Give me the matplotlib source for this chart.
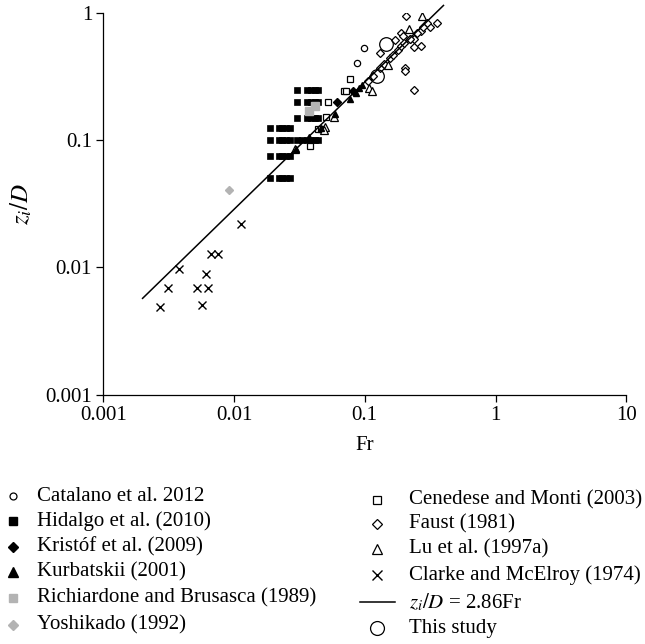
import matplotlib
matplotlib.use("Agg")
import matplotlib.pyplot as plt
import numpy as np

plt.rcParams['font.family'] = ['Liberation Serif', 'DejaVu Serif']
plt.rcParams['mathtext.fontset'] = 'stix'

# ---- data (Fr, z_i/D) ----
catalano_fr = [0.0991, 0.0872]
catalano_z = [0.528, 0.407]

hidalgo_fr = [0.019, 0.022, 0.0235, 0.025, 0.027,
              0.019, 0.022, 0.0235, 0.025, 0.027,
              0.019, 0.022, 0.0235, 0.025, 0.027, 0.0305, 0.033, 0.036, 0.039, 0.0415, 0.044,
              0.019, 0.022, 0.0235, 0.025, 0.027,
              0.0305, 0.036, 0.039, 0.0415, 0.044,
              0.0305, 0.036, 0.039, 0.0415, 0.044,
              0.0305, 0.036, 0.039, 0.0415, 0.044]
hidalgo_z = [0.05, 0.05, 0.05, 0.05, 0.05,
             0.075, 0.075, 0.075, 0.075, 0.075,
             0.1, 0.1, 0.1, 0.1, 0.1, 0.1, 0.1, 0.1, 0.1, 0.1, 0.1,
             0.125, 0.125, 0.125, 0.125, 0.125,
             0.15, 0.15, 0.15, 0.15, 0.15,
             0.2, 0.2, 0.2, 0.2, 0.2,
             0.25, 0.25, 0.25, 0.25, 0.25]

kristof_fr = [0.0616, 0.082]
kristof_z = [0.2, 0.245]

kurbatskii_fr = [0.030, 0.0375, 0.046, 0.059, 0.077, 0.085, 0.090, 0.095]
kurbatskii_z = [0.085, 0.106, 0.125, 0.160, 0.210, 0.235, 0.258, 0.270]

richiardone_fr = [0.0376, 0.0418]
richiardone_z = [0.170, 0.186]

yoshikado_fr = [0.0092]
yoshikado_z = [0.0407]

cenedese_fr = [0.0383, 0.0442, 0.0466, 0.0508, 0.0526, 0.0697, 0.0722, 0.0774]
cenedese_z = [0.090, 0.123, 0.123, 0.152, 0.200, 0.244, 0.244, 0.303]

faust_fr = [0.2077, 0.3566, 0.3155, 0.2988, 0.2704, 0.189, 0.196, 0.2228, 0.239, 0.239,
            0.2704, 0.1312, 0.204, 0.204, 0.239, 0.171,
            0.105, 0.115, 0.13, 0.14, 0.155, 0.165, 0.18, 0.19, 0.2, 0.22, 0.25, 0.28]
faust_z = [0.947, 0.839, 0.780, 0.830, 0.726, 0.693, 0.660, 0.622, 0.622, 0.538,
           0.551, 0.483, 0.372, 0.350, 0.248, 0.614,
           0.29, 0.32, 0.37, 0.40, 0.44, 0.47, 0.51, 0.55, 0.58, 0.62, 0.70, 0.78]

lu_fr = [0.2725, 0.219, 0.1513, 0.108, 0.114, 0.0583, 0.0497, 0.049, 0.0293]
lu_z = [0.947, 0.745, 0.390, 0.256, 0.245, 0.152, 0.127, 0.121, 0.0855]

clarke_fr = [0.00273, 0.00314, 0.0038, 0.00523, 0.00635, 0.00614, 0.00571, 0.0067, 0.00758, 0.01136]
clarke_z = [0.0049, 0.0069, 0.0098, 0.0069, 0.0069, 0.0089, 0.0051, 0.0128, 0.0128, 0.022]

study_fr = [0.146, 0.124]
study_z = [0.568, 0.320]

fit_coef = 2.86
fit_fr = [0.002, 0.40]

GRAY = '#b3b3b3'

fig = plt.figure(figsize=(6.45, 6.44), dpi=100)
ax = fig.add_axes([0.160, 0.387, 0.811, 0.593])

ax.plot(hidalgo_fr, hidalgo_z, 's', ms=4.6, color='black', mec='black', mew=0.5, ls='none')
ax.plot(richiardone_fr, richiardone_z, 's', ms=5.5, color=GRAY, mec=GRAY, ls='none')
ax.plot(yoshikado_fr, yoshikado_z, 'D', ms=4.0, color=GRAY, mec=GRAY, ls='none')
ax.plot(cenedese_fr, cenedese_z, 's', ms=5.0, mfc='white', mec='black', mew=0.9, ls='none')
ax.plot(faust_fr, faust_z, 'D', ms=4.2, mfc='white', mec='black', mew=0.9, ls='none')
ax.plot(lu_fr, lu_z, '^', ms=5.5, mfc='white', mec='black', mew=0.9, ls='none')
ax.plot(kristof_fr, kristof_z, 'D', ms=4.2, color='black', ls='none')
ax.plot(kurbatskii_fr, kurbatskii_z, '^', ms=5.0, color='black', ls='none')
ax.plot(catalano_fr, catalano_z, 'o', ms=4.5, mfc='white', mec='black', mew=0.9, ls='none')
ax.plot(clarke_fr, clarke_z, 'x', ms=5.5, color='black', mew=1.0, ls='none')
ax.plot(study_fr, study_z, 'o', ms=9.8, mfc='none', mec='black', mew=0.9, ls='none')

fit_x = np.array(fit_fr)
ax.plot(fit_x, fit_coef * fit_x, '-', color='black', lw=1.1, clip_on=False)

ax.set_xscale('log')
ax.set_yscale('log')
ax.set_xlim(0.001, 10)
ax.set_ylim(0.001, 1)
ax.set_xticks([0.001, 0.01, 0.1, 1, 10])
ax.set_xticklabels(['0.001', '0.01', '0.1', '1', '10'])
ax.set_yticks([0.001, 0.01, 0.1, 1])
ax.set_yticklabels(['0.001', '0.01', '0.1', '1'])
ax.minorticks_off()
ax.tick_params(axis='both', labelsize=15, length=5, width=0.9, direction='out', pad=3)
for side in ('top', 'right'):
    ax.spines[side].set_visible(False)
for side in ('left', 'bottom'):
    ax.spines[side].set_linewidth(0.9)
ax.set_xlabel('Fr', fontsize=15, labelpad=8)
ax.set_ylabel(r'$z_i/D$', fontsize=18, labelpad=8)

# ---- legend, drawn on a pixel-space overlay ----
leg = fig.add_axes([0, 0, 1, 1], facecolor='none')
leg.set_xlim(0, 645)
leg.set_ylim(644, 0)
leg.axis('off')

left_labels = ['Catalano et al. 2012', 'Hidalgo et al. (2010)', 'Kristóf et al. (2009)',
               'Kurbatskii (2001)', 'Richiardone and Brusasca (1989)', 'Yoshikado (1992)']
left_styles = [dict(marker='o', ms=5, mfc='white', mec='black', mew=0.9),
               dict(marker='s', ms=6, color='black'),
               dict(marker='D', ms=5, color='black'),
               dict(marker='^', ms=6.5, color='black'),
               dict(marker='s', ms=6, color=GRAY),
               dict(marker='D', ms=5, color=GRAY)]
left_rows = [496, 521, 547, 572, 598, 625]

right_labels = ['Cenedese and Monti (2003)', 'Faust (1981)', 'Lu et al. (1997a)',
                'Clarke and McElroy (1974)', r'$z_i/D$ = 2.86Fr', 'This study']
right_styles = [dict(marker='s', ms=6, mfc='white', mec='black', mew=0.9),
                dict(marker='D', ms=5, mfc='white', mec='black', mew=0.9),
                dict(marker='^', ms=6.5, mfc='white', mec='black', mew=0.9),
                dict(marker='x', ms=7, color='black', mew=1.0),
                None,
                dict(marker='o', ms=10, mfc='white', mec='black', mew=0.9)]
right_rows = [500, 524, 549, 575, 602, 628]

for lab, st, yy in zip(left_labels, left_styles, left_rows):
    leg.plot([13], [yy], ls='none', clip_on=False, **st)
    leg.text(37, yy, lab, fontsize=15, va='center', ha='left')

for lab, st, yy in zip(right_labels, right_styles, right_rows):
    if st is None:
        leg.plot([360, 395], [yy, yy], '-', color='black', lw=1.1)
    else:
        leg.plot([377], [yy], ls='none', clip_on=False, **st)
    leg.text(409, yy, lab, fontsize=15, va='center', ha='left')

fig.savefig('out.png', dpi=100)
